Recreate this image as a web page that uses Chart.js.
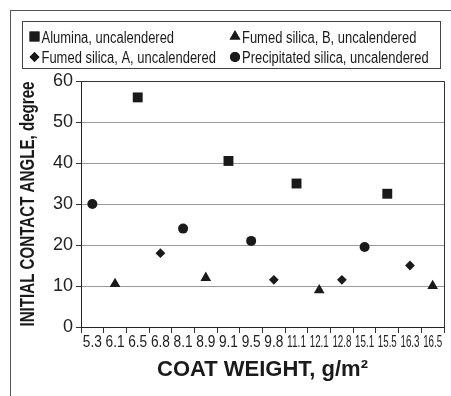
<!DOCTYPE html>
<html>
<head>
<meta charset="utf-8">
<script src="https://cdn.jsdelivr.net/npm/chart.js@4"></script>
<style>
  html, body { margin: 0; padding: 0; background: #fff; }
  #wrap { position: relative; width: 451px; height: 396px; }
  #frame { position: absolute; left: 10px; top: 10px; right: 0; bottom: 0;
           border-left: 1px solid #555; border-top: 1px solid #555; }
  canvas { position: absolute; left: 0; top: 0; }
</style>
</head>
<body>
<div id="wrap">
  <div id="frame"></div>
  <canvas id="chart" width="451" height="396"></canvas>
</div>
<script>
const coatWeights = ['5.3', '6.1', '6.5', '6.8', '8.1', '8.9', '9.1', '9.5', '9.8', '11.1', '12.1', '12.8', '15.1', '15.5', '16.3', '16.5'];
const alumina = [null, null, 56, null, null, null, 40.5, null, null, 35, null, null, null, 32.5, null, null];
const fumedB = [null, 10.5, null, null, null, 12, null, null, null, null, 9, null, null, null, null, 10];
const fumedA = [null, null, null, 18, null, null, null, null, 11.5, null, null, 11.5, null, null, 15, null];
const precip = [30, null, null, null, 24, null, null, 21, null, null, null, null, 19.5, null, null, null];
const yTicks = [0, 10, 20, 30, 40, 50, 60];
const yTitle = 'INITIAL CONTACT ANGLE, degree';

const sans = "'Liberation Sans', Arial, sans-serif";
const ink = '#1a1a1a';

// legend: 2x2 grid in a box above the plot
const legendPos = [
  { mx: 34.5, my: 36.5, tx: 41.5, ty: 42.5 },
  { mx: 235, my: 36.5, tx: 242, ty: 42.5 },
  { mx: 34.5, my: 57, tx: 41.5, ty: 63 },
  { mx: 235, my: 57, tx: 242, ty: 63 }
];

// text squeezed horizontally to look like a condensed face
function narrowText(ctx, text, x, y, squeeze) {
  ctx.save();
  ctx.translate(x, y);
  ctx.scale(squeeze, 1);
  ctx.fillText(text, 0, 0);
  ctx.restore();
}

const extras = {
  id: 'extras',
  afterDraw(chart) {
    const ctx = chart.ctx;
    const a = chart.chartArea;
    const xs = chart.scales.x;
    ctx.save();

    // legend
    ctx.strokeStyle = '#444';
    ctx.lineWidth = 1;
    ctx.strokeRect(22.5, 21.5, 418, 47);
    ctx.font = '16px ' + sans;
    ctx.textBaseline = 'alphabetic';
    ctx.textAlign = 'left';
    chart.data.datasets.forEach((ds, i) => {
      const p = legendPos[i];
      ctx.fillStyle = ink;
      ctx.strokeStyle = ink;
      Chart.helpers.drawPoint(ctx, { pointStyle: ds.pointStyle, radius: ds.pointRadius, borderWidth: 0 }, p.mx, p.my);
      ctx.fill();
      narrowText(ctx, ds.label, p.tx, p.ty, 0.81);
    });

    // x tick labels, squeezed into their cells
    ctx.font = '16px ' + sans;
    ctx.fillStyle = '#222';
    ctx.textAlign = 'center';
    chart.data.labels.forEach((lab, i) => {
      ctx.fillText(lab, xs.getPixelForValue(i), a.bottom + 20, 19);
    });

    // y title, condensed bold
    ctx.save();
    ctx.translate(33.5, (a.top + a.bottom) / 2);
    ctx.rotate(-Math.PI / 2);
    ctx.font = 'bold 21px ' + sans;
    ctx.fillStyle = ink;
    ctx.textAlign = 'center';
    narrowText(ctx, yTitle, 0, 0, 0.72);
    ctx.restore();

    // plot frame top and right
    ctx.strokeStyle = '#333';
    ctx.beginPath();
    ctx.moveTo(a.left, a.top + 0.5);
    ctx.lineTo(a.right + 0.5, a.top + 0.5);
    ctx.lineTo(a.right + 0.5, a.bottom);
    ctx.stroke();
    ctx.restore();
  }
};

function series(label, data, style, r) {
  return {
    label: label,
    data: data,
    showLine: false,
    pointStyle: style,
    pointRadius: r,
    pointHoverRadius: r,
    pointBackgroundColor: ink,
    pointBorderColor: ink,
    pointBorderWidth: 0
  };
}

new Chart(document.getElementById('chart'), {
  type: 'line',
  data: {
    labels: coatWeights,
    datasets: [
      series('Alumina, uncalendered', alumina, 'rect', 7),
      series('Fumed silica, B, uncalendered', fumedB, 'triangle', 6.2),
      series('Fumed silica, A, uncalendered', fumedA, 'rectRot', 4.9),
      series('Precipitated silica, uncalendered', precip, 'circle', 5)
    ]
  },
  options: {
    responsive: false,
    animation: false,
    layout: { padding: { left: 0, top: 81, right: 3, bottom: 0 } },
    plugins: { legend: { display: false }, tooltip: { enabled: false } },
    scales: {
      x: {
        type: 'category',
        offset: true,
        grid: { offset: true, drawOnChartArea: false, tickLength: 6, color: '#333' },
        border: { color: '#222', width: 1 },
        ticks: { display: false, autoSkip: false, maxRotation: 0 },
        title: { display: true, text: 'COAT WEIGHT, g/m²', color: ink,
                 font: { family: sans, size: 22, weight: 'bold' },
                 padding: { top: 0, bottom: 13 } },
        afterFit(scale) { scale.height = 69; }
      },
      y: {
        min: 0,
        max: 60,
        afterBuildTicks(scale) { scale.ticks = yTicks.map(v => ({ value: v })); },
        grid: { color: '#9a9a9a', tickColor: '#333', tickLength: 5 },
        border: { color: '#222', width: 1 },
        ticks: { padding: 3, font: { family: sans, size: 18 }, color: '#222' },
        title: { display: false },
        afterFit(scale) { scale.width = 81; }
      }
    }
  },
  plugins: [extras]
});
</script>
</body>
</html>
